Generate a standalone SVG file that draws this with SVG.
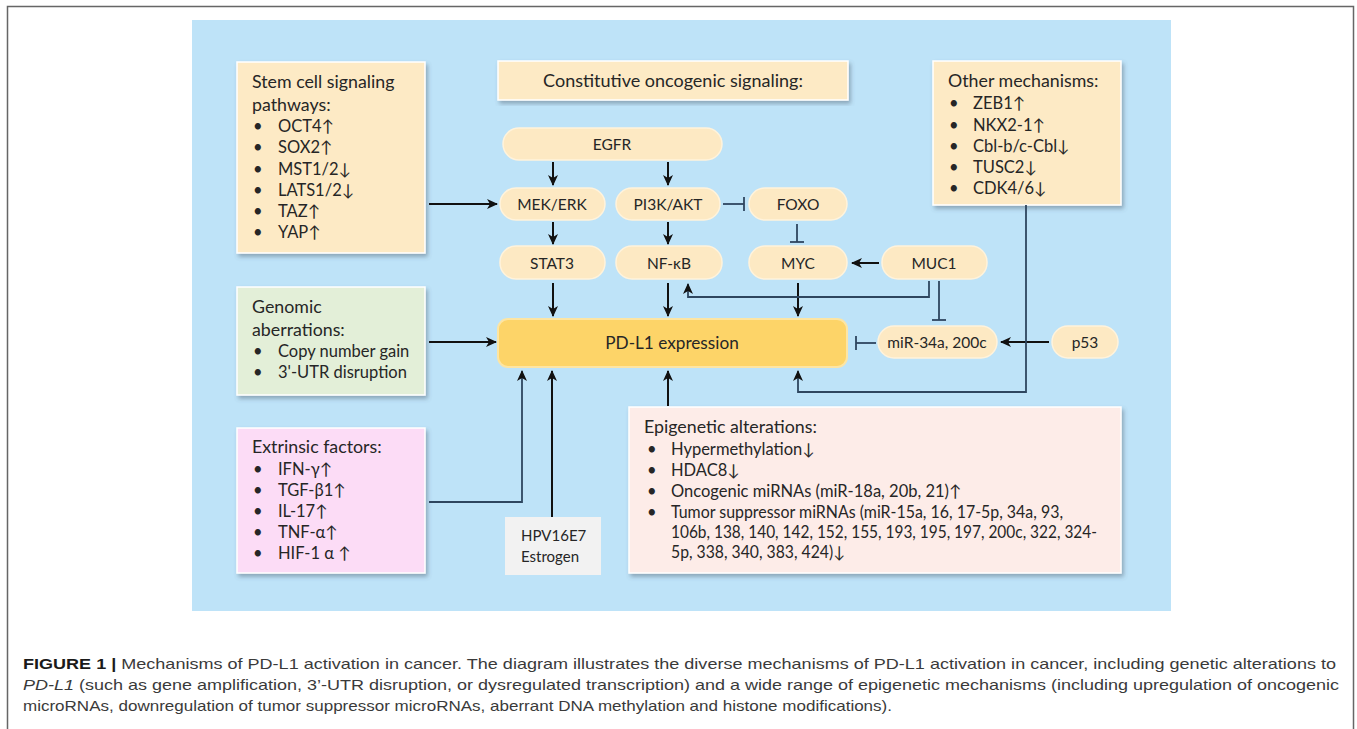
<svg xmlns="http://www.w3.org/2000/svg" width="1357" height="729" viewBox="0 0 1357 729">
<style>
.t{font-family:Lato,"Open Sans","Liberation Sans",sans-serif;font-size:16.5px;fill:#262626}
.h{font-size:17.8px}
.p{font-size:15.5px}
.c{text-anchor:middle}
.box{stroke:#ffffff;stroke-width:1.5;filter:url(#sh)}
.pill{fill:#fde9c3;stroke:#fff3dc;stroke-width:1.5}
.ar{stroke:#111;stroke-width:2;fill:none;marker-end:url(#ah)}
.thinar{stroke:#2e465f;stroke-width:1.8;fill:none;marker-end:url(#ah)}
.inh{stroke:#2e465f;stroke-width:1.8;fill:none}
.cap{font-family:"Liberation Sans",Arial,sans-serif;font-size:15px;fill:#3a3a3a}
</style>
<defs>
<marker id="ah" markerUnits="userSpaceOnUse" markerWidth="12" markerHeight="12" refX="10" refY="6" orient="auto">
<path d="M0,1 L11,6 L0,11 L3,6 z" fill="#111"/>
</marker>
<filter id="sh" x="-10%" y="-10%" width="125%" height="125%">
<feDropShadow dx="2" dy="3" stdDeviation="2" flood-color="#4a5a6a" flood-opacity="0.45"/>
</filter>
</defs>
<rect x="7.5" y="6.5" width="1346" height="760" fill="#fff" stroke="#666" stroke-width="1.5"/>
<rect x="192" y="20" width="979" height="591" fill="#bee3f8"/>

<g id="stem-cell">
<rect class="box" x="237" y="62" width="188" height="191" fill="#fdeac5"/>
<text class="t h" x="252" y="88">Stem cell signaling</text>
<text class="t h" x="252" y="111">pathways:</text>
<text class="t" x="253" y="132">•</text><text class="t" x="278" y="132">OCT4↑</text>
<text class="t" x="253" y="153">•</text><text class="t" x="278" y="153">SOX2↑</text>
<text class="t" x="253" y="175">•</text><text class="t" x="278" y="175">MST1/2↓</text>
<text class="t" x="253" y="196">•</text><text class="t" x="278" y="196">LATS1/2↓</text>
<text class="t" x="253" y="217">•</text><text class="t" x="278" y="217">TAZ↑</text>
<text class="t" x="253" y="238">•</text><text class="t" x="278" y="238">YAP↑</text>
</g>

<g id="constitutive">
<rect class="box" x="498" y="61" width="350" height="39" fill="#fdeac5"/>
<text class="t c" x="673" y="87" style="font-size:18px">Constitutive oncogenic signaling:</text>
</g>

<g id="other">
<rect class="box" x="933" y="61" width="188" height="144" fill="#fdeac5"/>
<text class="t h" x="948" y="87">Other mechanisms:</text>
<text class="t" x="949" y="109">•</text><text class="t" x="973" y="109">ZEB1↑</text>
<text class="t" x="949" y="131">•</text><text class="t" x="973" y="131">NKX2-1↑</text>
<text class="t" x="949" y="152">•</text><text class="t" x="973" y="152">Cbl-b/c-Cbl↓</text>
<text class="t" x="949" y="173">•</text><text class="t" x="973" y="173">TUSC2↓</text>
<text class="t" x="949" y="194">•</text><text class="t" x="973" y="194">CDK4/6↓</text>
</g>

<g id="genomic">
<rect class="box" x="237" y="287" width="188" height="108" fill="#e3efd8"/>
<text class="t h" x="252" y="313">Genomic</text>
<text class="t h" x="252" y="336">aberrations:</text>
<text class="t" x="253" y="357">•</text><text class="t" x="278" y="357">Copy number gain</text>
<text class="t" x="253" y="378">•</text><text class="t" x="278" y="378">3'-UTR disruption</text>
</g>

<g id="extrinsic">
<rect class="box" x="237" y="428" width="188" height="145" fill="#fcdcf6"/>
<text class="t h" x="252" y="453">Extrinsic factors:</text>
<text class="t" x="253" y="475">•</text><text class="t" x="278" y="475">IFN-γ↑</text>
<text class="t" x="253" y="496">•</text><text class="t" x="278" y="496">TGF-β1↑</text>
<text class="t" x="253" y="517">•</text><text class="t" x="278" y="517">IL-17↑</text>
<text class="t" x="253" y="538">•</text><text class="t" x="278" y="538">TNF-α↑</text>
<text class="t" x="253" y="559">•</text><text class="t" x="278" y="559">HIF-1 α ↑</text>
</g>

<g id="hpv">
<rect x="505" y="517" width="96" height="58" fill="#f2f2f2"/>
<text class="t" x="521" y="541" style="font-size:15px">HPV16E7</text>
<text class="t" x="521" y="562" style="font-size:15px">Estrogen</text>
</g>

<g id="epigenetic">
<rect class="box" x="629" y="407" width="492" height="166" fill="#fdece8"/>
<text class="t h" x="644" y="433">Epigenetic alterations:</text>
<text class="t" x="647" y="455">•</text><text class="t" x="671" y="455">Hypermethylation↓</text>
<text class="t" x="647" y="476">•</text><text class="t" x="671" y="476">HDAC8↓</text>
<text class="t" x="647" y="497">•</text><text class="t" x="671" y="497">Oncogenic miRNAs (miR-18a, 20b, 21)↑</text>
<text class="t" x="647" y="518">•</text><text class="t" x="671" y="518" textLength="392" lengthAdjust="spacingAndGlyphs">Tumor suppressor miRNAs (miR-15a, 16, 17-5p, 34a, 93,</text>
<text class="t" x="671" y="538" textLength="426" lengthAdjust="spacingAndGlyphs">106b, 138, 140, 142, 152, 155, 193, 195, 197, 200c, 322, 324-</text>
<text class="t" x="671" y="558" textLength="174" lengthAdjust="spacingAndGlyphs">5p, 338, 340, 383, 424)↓</text>
</g>

<g id="egfr"><rect class="pill" x="503" y="128" width="219" height="32" rx="16"/><text class="t p c" x="612" y="150">EGFR</text></g>
<g id="mek"><rect class="pill" x="500" y="188" width="105" height="32" rx="16"/><text class="t p c" x="552" y="210">MEK/ERK</text></g>
<g id="pi3k"><rect class="pill" x="616" y="188" width="104" height="32" rx="16"/><text class="t p c" x="668" y="210">PI3K/AKT</text></g>
<g id="foxo"><rect class="pill" x="749" y="188" width="98" height="32" rx="16"/><text class="t p c" x="798" y="210">FOXO</text></g>
<g id="stat3"><rect class="pill" x="500" y="246" width="105" height="33" rx="16"/><text class="t p c" x="552" y="269">STAT3</text></g>
<g id="nfkb"><rect class="pill" x="616" y="246" width="106" height="33" rx="16"/><text class="t p c" x="669" y="269">NF-κB</text></g>
<g id="myc"><rect class="pill" x="749" y="246" width="98" height="33" rx="16"/><text class="t p c" x="798" y="269">MYC</text></g>
<g id="muc1"><rect class="pill" x="882" y="246" width="105" height="33" rx="16"/><text class="t p c" x="934" y="269">MUC1</text></g>
<g id="mir"><rect class="pill" x="878" y="326" width="119" height="32" rx="16"/><text class="t p c" x="937" y="348">miR-34a, 200c</text></g>
<g id="p53"><rect class="pill" x="1052" y="326" width="66" height="32" rx="16"/><text class="t p c" x="1085" y="348">p53</text></g>
<g id="pdl1"><rect x="498" y="319" width="349" height="48" rx="10" fill="#fdd468" stroke="#fde5a3" stroke-width="2"/><text class="t c" x="672" y="349" style="font-size:17.2px">PD-L1 expression</text></g>

<g id="connectors">
<line class="ar" x1="429" y1="204" x2="497" y2="204"/>
<line class="ar" x1="553" y1="162" x2="553" y2="185"/>
<line class="ar" x1="668" y1="162" x2="668" y2="185"/>
<line class="inh" x1="723" y1="204" x2="744" y2="204"/><line class="inh" x1="744" y1="197" x2="744" y2="211"/>
<line class="ar" x1="553" y1="222" x2="553" y2="244"/>
<line class="ar" x1="668" y1="222" x2="668" y2="244"/>
<line class="inh" x1="797" y1="224" x2="797" y2="242"/><line class="inh" x1="790" y1="242" x2="804" y2="242"/>
<line class="ar" x1="879" y1="263" x2="852" y2="263"/>
<line class="ar" x1="553" y1="283" x2="553" y2="316"/>
<line class="ar" x1="668" y1="283" x2="668" y2="316"/>
<line class="ar" x1="798" y1="283" x2="798" y2="316"/>
<path class="thinar" d="M929,281 V297 H688 V284"/>
<line class="inh" x1="939" y1="281" x2="939" y2="320"/><line class="inh" x1="932" y1="320" x2="946" y2="320"/>
<line class="inh" x1="876" y1="343" x2="856" y2="343"/><line class="inh" x1="856" y1="336" x2="856" y2="350"/>
<line class="ar" x1="1049" y1="342" x2="1001" y2="342"/>
<path class="thinar" d="M1026,205 V392 H798 V371"/>
<line class="ar" x1="429" y1="342" x2="496" y2="342"/>
<path class="thinar" d="M429,502 H522 V371"/>
<line class="ar" x1="552" y1="517" x2="552" y2="371"/>
<line class="ar" x1="668" y1="406" x2="668" y2="371"/>
</g>

<g id="caption">
<text class="cap" x="23" y="669" textLength="1313" lengthAdjust="spacingAndGlyphs"><tspan font-weight="bold" fill="#1a1a1a">FIGURE 1 |</tspan> Mechanisms of PD-L1 activation in cancer. The diagram illustrates the diverse mechanisms of PD-L1 activation in cancer, including genetic alterations to</text>
<text class="cap" x="23" y="690" textLength="1316" lengthAdjust="spacingAndGlyphs"><tspan font-style="italic">PD-L1</tspan> (such as gene amplification, 3’-UTR disruption, or dysregulated transcription) and a wide range of epigenetic mechanisms (including upregulation of oncogenic</text>
<text class="cap" x="23" y="711" textLength="869" lengthAdjust="spacingAndGlyphs">microRNAs, downregulation of tumor suppressor microRNAs, aberrant DNA methylation and histone modifications).</text>
</g>
</svg>
